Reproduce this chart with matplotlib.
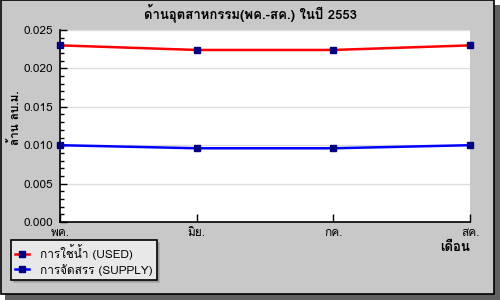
import matplotlib
matplotlib.use("Agg")
import matplotlib.pyplot as plt
from matplotlib import font_manager
from matplotlib.ft2font import FT2Font
from matplotlib.patches import Rectangle
from matplotlib.ticker import MultipleLocator, FormatStrFormatter

months = ["พค.", "มิย.", "กค.", "สค."]
used = [0.0230, 0.0224, 0.0224, 0.0230]
supply = [0.0100, 0.0096, 0.0096, 0.0100]
title = "ด้านอุตสาหกรรม(พค.-สค.) ในปี 2553"
ylabel = "ล้าน ลบ.ม."
xlabel = "เดือน"
labels = ["การใช้น้ำ (USED)", "การจัดสรร (SUPPLY)"]

thai = []
for fe in font_manager.fontManager.ttflist:
    try:
        cm = FT2Font(fe.fname).get_charmap()
    except Exception:
        continue
    if 0x0E01 in cm and 0x0E49 in cm and fe.name not in thai:
        thai.append(fe.name)
fams = thai + ['DejaVu Sans']
plt.rcParams['font.family'] = fams

W, H = 500, 300
fig = plt.figure(figsize=(5, 3), dpi=100)
bg = "#c8c8c8"
fig.patch.set_facecolor("white")

fig.patches.append(Rectangle((5 / W, 0), (W - 5) / W, (H - 5) / H, transform=fig.transFigure,
                             facecolor="#606060", edgecolor="none", zorder=-3))
fig.patches.append(Rectangle((1 / W, 6.5 / H), 493 / W, (H - 6.5) / H, transform=fig.transFigure,
                             facecolor=bg, edgecolor="black", linewidth=1.2, zorder=-2))

ax = fig.add_axes([60 / W, 1 - 222 / H, 410 / W, 192 / H])
ax.set_facecolor("white")
x = list(range(len(months)))
l1, = ax.plot(x, used, color="#ff0000", linewidth=1.8, marker="s", markersize=4.5,
              markerfacecolor="#000080", markeredgecolor="#000080", label=labels[0], zorder=3,
              clip_on=False)
l2, = ax.plot(x, supply, color="#0000ff", linewidth=1.8, marker="s", markersize=4.5,
              markerfacecolor="#000080", markeredgecolor="#000080", label=labels[1], zorder=3,
              clip_on=False)

ax.set_xlim(0, len(months) - 1)
ax.set_ylim(0, 0.025)
ax.set_xticks(x)
ax.set_xticklabels(months, fontsize=8.5)
ax.yaxis.set_major_locator(MultipleLocator(0.005))
ax.yaxis.set_minor_locator(MultipleLocator(0.001))
ax.yaxis.set_major_formatter(FormatStrFormatter("%.3f"))
ax.tick_params(axis="y", which="major", direction="in", length=5, width=1, labelsize=8.5, pad=5)
ax.tick_params(axis="y", which="minor", direction="in", length=3, width=1)
ax.tick_params(axis="x", which="major", direction="in", length=6, width=1, labelsize=8.5, pad=4)
ax.grid(axis="y", which="major", color="#dddddd", linewidth=1)
ax.set_axisbelow(True)
for s in ["top", "right"]:
    ax.spines[s].set_visible(False)
for s in ["left", "bottom"]:
    ax.spines[s].set_linewidth(1.2)

fig.text(0.5, 1 - 13 / H, title, ha="center", va="center", fontsize=9.5, fontweight="bold")
fig.text(14 / W, 1 - 118 / H, ylabel, ha="center", va="center", rotation=90, fontsize=8.5,
         fontweight="bold")
fig.text(470 / W, 1 - 248 / H, xlabel, ha="right", va="center", fontsize=9.5, fontweight="bold")

leg = fig.legend(handles=[l1, l2], loc="upper left", bbox_to_anchor=(11 / W, 1 - 240 / H),
                 fontsize=8.5, frameon=True, fancybox=False, shadow={"color": "#8c8c8c"},
                 borderpad=0.35, handlelength=1.2, handletextpad=0.9, labelspacing=0.3,
                 borderaxespad=0)
leg.get_frame().set_facecolor("#e8e8e8")
leg.get_frame().set_edgecolor("black")
leg.get_frame().set_linewidth(1.2)
leg.get_frame().set_alpha(1)

fig.savefig("out.png", dpi=100, facecolor=fig.get_facecolor())
